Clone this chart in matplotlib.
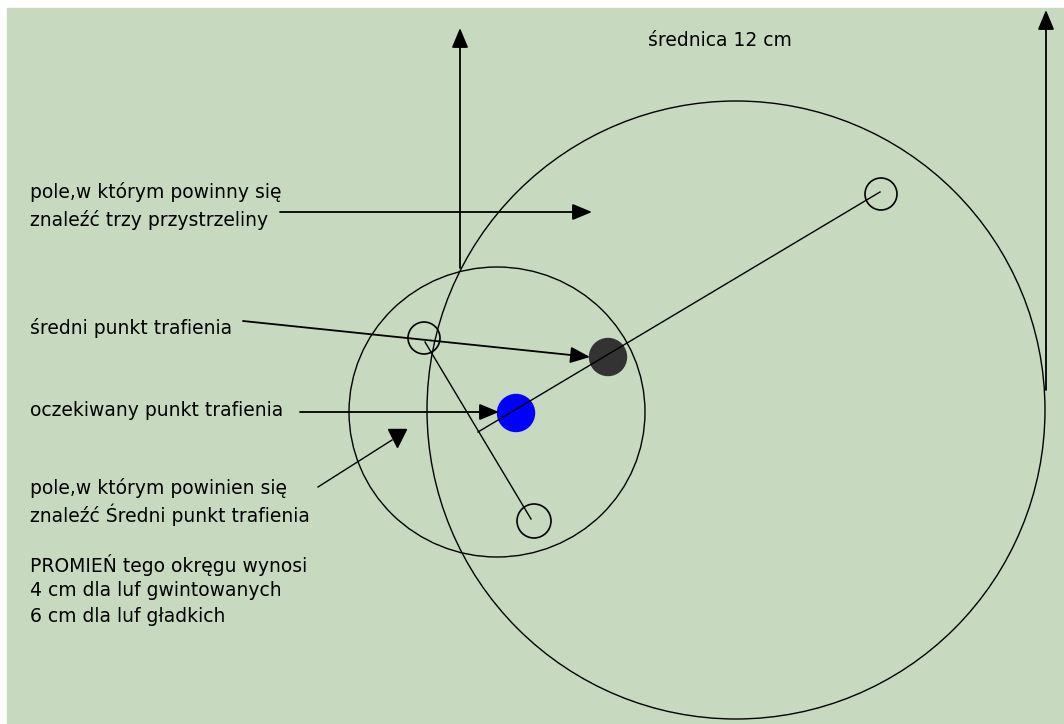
# -*- coding: utf-8 -*-
#
# Schemat przystrzeliwania broni
#

import matplotlib.pyplot as plt
from matplotlib.patches import Rectangle, Circle, Ellipse

# Kola (srodek x, y, promien) w pikselach obrazka
big_circle = (736, 410, 309)
small_circle = (497, 412, 296, 290)   # srodek, szerokosc, wysokosc
holes_x = [424, 881, 534]
holes_y = [338, 194, 521]
holes_r = [16, 16, 17]
mean_hit = (608, 357, 18.5)
expected_hit = (516, 413, 18.5)

# Odcinki laczace przestrzeliny
seg_x = [[880, 478], [425, 531]]
seg_y = [[192, 432], [342, 519]]

# Strzalki (poczatek -> grot)
arrow_start = [(460, 268), (1046, 390), (280, 212), (243, 321), (300, 412)]
arrow_end = [(460, 28), (1046, 10), (592, 212), (590, 357), (499, 412)]
# linia bez grotu + osobny trojkat
pointer_x = [318, 392]
pointer_y = [487, 440]
triangle = (397, 438)

labels = ['pole,w którym powinny się', 'znaleźć trzy przystrzeliny',
          'średni punkt trafienia', 'oczekiwany punkt trafienia',
          'pole,w którym powinien się', 'znaleźć Średni punkt trafienia',
          'PROMIEŃ tego okręgu wynosi', '4 cm dla luf gwintowanych',
          '6 cm dla luf gładkich']
labels_y = [192, 220, 328, 410, 488, 515, 565, 591, 617]
title = 'średnica 12 cm'

plt.rcParams['font.family'] = ['DejaVu Sans']

fig = plt.figure(figsize=(10.64, 7.24), dpi=100)
ax = fig.add_axes([0, 0, 1, 1])
ax.set_xlim(0, 1064)
ax.set_ylim(724, 0)
ax.axis('off')

ax.add_patch(Rectangle((7, 8), 1057, 716, color='#c7dac0', zorder=0))

ax.add_patch(Circle(big_circle[:2], big_circle[2], fill=False, ec='black', lw=1))
ax.add_patch(Ellipse(small_circle[:2], small_circle[2], small_circle[3],
                     fill=False, ec='black', lw=1))
for x, y, r in zip(holes_x, holes_y, holes_r):
    ax.add_patch(Circle((x, y), r, fill=False, ec='black', lw=1.2))
ax.add_patch(Circle(mean_hit[:2], mean_hit[2], color='#333333', zorder=3))
ax.add_patch(Circle(expected_hit[:2], expected_hit[2], color='#0000ff', zorder=3))

for xs, ys in zip(seg_x, seg_y):
    ax.plot(xs, ys, color='black', lw=1, zorder=4)

for s, e in zip(arrow_start, arrow_end):
    ax.annotate('', xy=e, xytext=s,
                arrowprops=dict(arrowstyle='-|>,head_length=1.2,head_width=0.5',
                                color='black', lw=1.3, shrinkA=0, shrinkB=0,
                                mutation_scale=10), zorder=5)
ax.plot(pointer_x, pointer_y, color='black', lw=1)
ax.plot(*triangle, marker='v', color='black', markersize=13)

for txt, y in zip(labels, labels_y):
    ax.text(30, y, txt, fontsize=13.5, va='center', ha='left')
ax.text(648, 40, title, fontsize=13.5, va='center', ha='left')

fig.savefig('out.png', dpi=100)
